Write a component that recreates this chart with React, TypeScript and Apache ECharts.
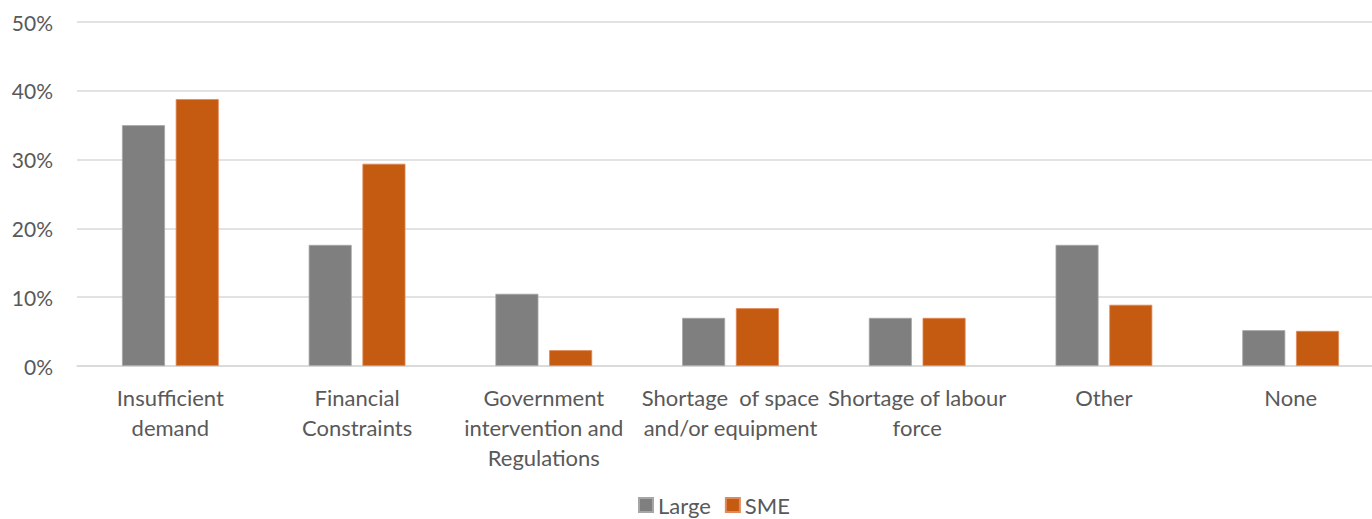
import React, { useEffect, useRef } from "react";
import * as echarts from "echarts";

const categories = [
  "Insufficient\ndemand",
  "Financial\nConstraints",
  "Government\nintervention and\nRegulations",
  "Shortage  of space\nand/or equipment",
  "Shortage of labour\nforce",
  "Other",
  "None",
];
const large = [35.0, 17.6, 10.5, 7.0, 7.0, 17.6, 5.2];
const sme = [38.8, 29.4, 2.3, 8.4, 7.0, 8.9, 5.1];
const FONT = "Lato, 'Open Sans', sans-serif";

export default function App() {
  const ref = useRef<HTMLDivElement>(null);
  useEffect(() => {
    const chart = echarts.init(ref.current!, undefined, { renderer: "svg" });
    chart.setOption({
      animation: false,
      textStyle: { fontFamily: FONT },
      grid: { left: 77, right: 0, top: 22, bottom: 153 },
      legend: {
        bottom: -2,
        left: 633,
        itemWidth: 14,
        itemHeight: 14,
        itemGap: 14,
        icon: "rect",
        textStyle: { fontSize: 22, color: "#595959", fontFamily: FONT },
        data: ["Large", "SME"],
      },
      xAxis: {
        type: "category",
        data: categories,
        axisLine: { lineStyle: { color: "#d9d9d9", width: 1.5 } },
        axisTick: { show: false },
        axisLabel: {
          fontSize: 22,
          color: "#595959",
          lineHeight: 30,
          margin: 16,
          interval: 0,
          fontFamily: FONT,
        },
      },
      yAxis: {
        type: "value",
        min: 0,
        max: 50,
        interval: 10,
        axisLabel: {
          formatter: "{value}%",
          fontSize: 21,
          color: "#595959",
          margin: 24,
          fontFamily: FONT,
        },
        splitLine: { lineStyle: { color: "#d9d9d9", width: 1.5 } },
        axisLine: { show: false },
        axisTick: { show: false },
      },
      series: [
        {
          name: "Large",
          type: "bar",
          data: large,
          barWidth: 43,
          barGap: "25%",
          itemStyle: { color: "#7f7f7f", borderColor: "#a6a6a6", borderWidth: 0.8 },
        },
        {
          name: "SME",
          type: "bar",
          data: sme,
          barWidth: 43,
          itemStyle: { color: "#c55a11", borderColor: "#e0895a", borderWidth: 0.8 },
        },
      ],
    });
    return () => chart.dispose();
  }, []);
  return (
    <div
      style={{
        position: "fixed",
        left: 0,
        top: 0,
        width: 1372,
        height: 519,
        overflow: "hidden",
        background: "#fff",
      }}
    >
      <div ref={ref} style={{ width: 1384, height: 519 }} />
    </div>
  );
}
